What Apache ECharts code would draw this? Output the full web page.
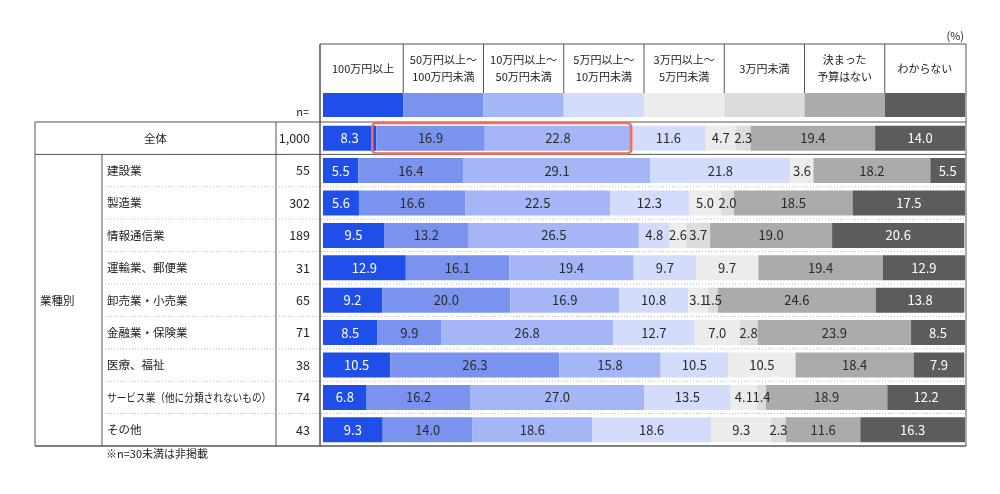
<!DOCTYPE html>
<html>
<head>
<meta charset="utf-8">
<script src="https://cdn.jsdelivr.net/npm/echarts@6/dist/echarts.min.js"></script>
<style>
  html, body { margin: 0; background: #fff; }
  #main { width: 1000px; height: 494px; }
</style>
</head>
<body>
<div id="main"></div>
<script>
// 行（全体＋業種別）
const rows = ['全体', '建設業', '製造業', '情報通信業', '運輸業、郵便業', '卸売業・小売業',
  '金融業・保険業', '医療、福祉', 'サービス業（他に分類されないもの）', 'その他']
const nValues = ['1,000', '55', '302', '189', '31', '65', '71', '38', '74', '43']

// 予算区分
const budgetNames = ['100万円以上', '50万円以上～\n100万円未満', '10万円以上～\n50万円未満',
  '5万円以上～\n10万円未満', '3万円以上～\n5万円未満', '3万円未満', '決まった\n予算はない', 'わからない']

// 各区分の割合（%）
const s1 = [8.3, 5.5, 5.6, 9.5, 12.9, 9.2, 8.5, 10.5, 6.8, 9.3]
const s2 = [16.9, 16.4, 16.6, 13.2, 16.1, 20.0, 9.9, 26.3, 16.2, 14.0]
const s3 = [22.8, 29.1, 22.5, 26.5, 19.4, 16.9, 26.8, 15.8, 27.0, 18.6]
const s4 = [11.6, 21.8, 12.3, 4.8, 9.7, 10.8, 12.7, 10.5, 13.5, 18.6]
const s5 = [4.7, 3.6, 5.0, 2.6, 9.7, 3.1, 7.0, 10.5, 4.1, 9.3]
const s6 = [2.3, 0, 2.0, 3.7, 0, 1.5, 2.8, 0, 1.4, 2.3]
const s7 = [19.4, 18.2, 18.5, 19.0, 19.4, 24.6, 23.9, 18.4, 18.9, 11.6]
const s8 = [14.0, 5.5, 17.5, 20.6, 12.9, 13.8, 8.5, 7.9, 12.2, 16.3]

const seriesData = [s1, s2, s3, s4, s5, s6, s7, s8]
const colors = ['#1f4fe8', '#7a93ef', '#a4b6f6', '#d3ddfb', '#ececec', '#dcdcdc', '#ababab', '#5c5c5c']
const labelColors = ['#fff', '#2a2a2a', '#2a2a2a', '#2a2a2a', '#2a2a2a', '#2a2a2a', '#2a2a2a', '#fff']

const FONT = '"Noto Sans CJK JP", "Noto Sans", sans-serif'
const LINE = '#555'
const GRID = { left: 323, top: 122, width: 642, height: 324 }

const chart = echarts.init(document.getElementById('main'))

chart.setOption({
  animation: false,
  grid: GRID,
  xAxis: { type: 'value', min: 0, max: 100, show: false },
  yAxis: { type: 'category', data: rows, inverse: true, show: false },
  series: seriesData.map((d, i) => ({
    name: budgetNames[i],
    type: 'bar',
    stack: 'total',
    barWidth: 25,
    data: d,
    itemStyle: { color: colors[i] },
    label: {
      show: true,
      position: 'inside',
      color: labelColors[i],
      fontSize: 13,
      fontFamily: FONT,
      formatter: (p) => (p.value ? p.value.toFixed(1) : '')
    }
  }))
})

// ---- 表の枠・文字（軸から位置を取得） ----
const yOf = (r) => chart.convertToPixel({ yAxisIndex: 0 }, r)
const xOf = (v) => chart.convertToPixel({ xAxisIndex: 0 }, v)
const band = yOf(rows[1]) - yOf(rows[0])
const tableTop = yOf(rows[0]) - band / 2
const totalBottom = yOf(rows[0]) + band / 2
const tableBottom = yOf(rows[rows.length - 1]) + band / 2
const xL = 35, xCat = 102, xN = 276, xBar = 320, xR = 966
const headTop = 44, swTop = 93, swH = 24

const g = []
function line(x1, y1, x2, y2, opt) {
  g.push({
    type: 'line', silent: true,
    shape: { x1, y1, x2, y2 },
    style: Object.assign({ stroke: LINE, lineWidth: 1 }, opt || {})
  })
}
function text(t, x, y, align, opt, scaleX) {
  g.push({
    type: 'text', silent: true,
    x, y, scaleX: scaleX || 1, originX: 0, originY: 0,
    style: Object.assign({
      text: t, x: 0, y: 0, fill: '#222', fontSize: 11.5, fontFamily: FONT,
      align, textAlign: align, verticalAlign: 'middle', textVerticalAlign: 'middle'
    }, opt || {})
  })
}

// 見出し
const colW = GRID.width / budgetNames.length
line(xBar, headTop, xR, headTop)
budgetNames.forEach((name, i) => {
  const cx = GRID.left + colW * (i + 0.5)
  text(name, cx, (headTop + swTop) / 2, 'center', { lineHeight: 17, fontSize: 11 })
  if (i > 0) line(GRID.left + colW * i, headTop, GRID.left + colW * i, swTop)
  g.push({
    type: 'rect', silent: true,
    shape: { x: GRID.left + colW * i, y: swTop, width: colW, height: swH },
    style: { fill: colors[i] }
  })
})
text('(%)', xR - 2, headTop - 8, 'right', { fontSize: 11 })
text('n=', xN + 33, 112, 'right', { fontSize: 11 })

// 枠線
line(xL, tableTop, xR, tableTop)
line(xL, totalBottom, xR, totalBottom)
line(xL, tableBottom, xR, tableBottom, { lineWidth: 1.5 })
line(xL, tableTop, xL, tableBottom)
line(xCat, totalBottom, xCat, tableBottom)
line(xN, tableTop, xN, tableBottom)
line(xBar, headTop, xBar, tableBottom, { lineWidth: 1.5 })
line(xR, headTop, xR, tableBottom)

// 行の点線・文字
rows.forEach((r, i) => {
  const cy = yOf(r)
  if (i === 0) {
    text(r, (xL + xN) / 2, cy, 'center')
  } else {
    // 長い名称は横幅を詰める
    const sx = r.length > 12 ? 0.84 : 1
    text(r, xCat + 5, cy, 'left', null, sx)
    if (i < rows.length - 1) {
      line(xCat, cy + band / 2, xR, cy + band / 2, { stroke: '#bbb', lineDash: [1, 2] })
    }
  }
  text(nValues[i], xBar - 10, cy, 'right', { fontSize: 12.5 })
})
text('業種別', xL + 5, (totalBottom + tableBottom) / 2, 'left')
text('※n=30未満は非掲載', xCat + 4, tableBottom + 8, 'left', { fontSize: 11 })

// 全体の10万〜100万円未満を囲む枠
const boxX1 = xOf(s1[0]) - 4
const boxX2 = xOf(s1[0] + s2[0] + s3[0])
g.push({
  type: 'rect', silent: true, z: 100,
  shape: { x: boxX1, y: tableTop + 1, width: boxX2 - boxX1, height: band - 2, r: 4 },
  style: { fill: 'none', stroke: '#ef6f5e', lineWidth: 2.5 }
})

chart.setOption({ graphic: { elements: g } })
</script>
</body>
</html>
